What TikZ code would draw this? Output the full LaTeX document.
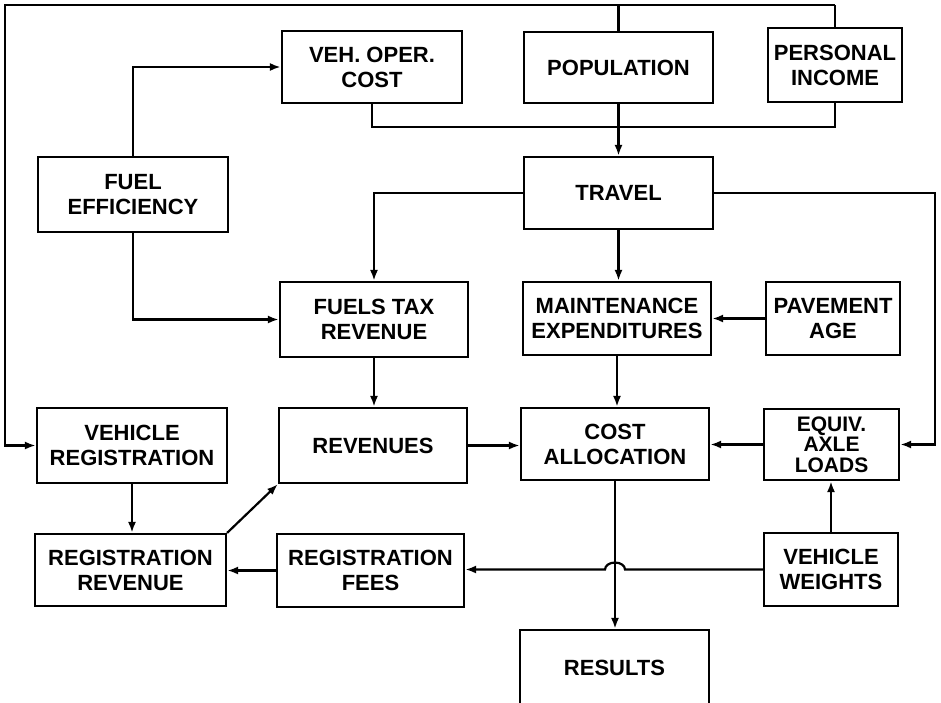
\documentclass[tikz,border=0pt]{standalone}
\usepackage{fontspec}
\setmainfont{Liberation Sans}
\usetikzlibrary{arrows.meta}
\begin{document}
\begin{tikzpicture}[x=0.5pt,y=-0.5pt,
  box/.style={draw,line width=1.1pt,align=center,inner sep=0pt,
    font=\fontsize{11}{12.5}\selectfont\bfseries},
  link/.style={line width=1.1pt},
  flow/.style={link,-{Latex[length=5.5pt,width=4pt]}}]
\useasboundingbox (0,0) rectangle (941,702);

% boxes: position = centre, size in pixels of the layout grid
\node[box,minimum width=90pt,minimum height=36pt]   (veh)    at (372,67)    {VEH. OPER.\\COST};
\node[box,minimum width=94.5pt,minimum height=35.5pt] (pop)  at (618.5,67.5) {POPULATION};
\node[box,minimum width=67pt,minimum height=37pt]   (inc)    at (835,65)    {PERSONAL\\INCOME};
\node[box,minimum width=94.5pt,minimum height=36pt] (travel) at (618.5,193) {TRAVEL};
\node[box,minimum width=95pt,minimum height=37.5pt] (feff)   at (133,194.5) {FUEL\\EFFICIENCY};
\node[box,minimum width=94pt,minimum height=37.5pt] (ftax)   at (374,319.5) {FUELS TAX\\REVENUE};
\node[box,minimum width=94pt,minimum height=36.5pt] (maint)  at (617,318.5) {MAINTENANCE\\EXPENDITURES};
\node[box,minimum width=67pt,minimum height=36.5pt] (pav)    at (833,318.5) {PAVEMENT\\AGE};
\node[box,minimum width=95pt,minimum height=37.5pt] (vreg)   at (132,445.5) {VEHICLE\\REGISTRATION};
\node[box,minimum width=94pt,minimum height=37.5pt] (rev)    at (373,445.5) {REVENUES};
\node[box,minimum width=94pt,minimum height=36pt]   (cost)   at (615,444)   {COST\\ALLOCATION};
\node[box,minimum width=67.5pt,minimum height=35.5pt,
      font=\fontsize{10.5}{10.3}\selectfont\bfseries] (eal)  at (831.5,444.5) {EQUIV.\\AXLE\\LOADS};
\node[box,minimum width=95.5pt,minimum height=36pt] (regrev) at (130.5,570)  {REGISTRATION\\REVENUE};
\node[box,minimum width=93.5pt,minimum height=36.5pt] (fees) at (370.5,570.5) {REGISTRATION\\FEES};
\node[box,minimum width=67pt,minimum height=36.5pt] (vw)     at (831,569.5) {VEHICLE\\WEIGHTS};
\node[box,minimum width=94.5pt,minimum height=38pt] (res)    at (614.5,668) {RESULTS};

% routing helpers
\coordinate (tl) at (5,5);
\coordinate (col) at (0,127);
\coordinate (rx) at (935,0);
\coordinate (hop) at (cost.south |- vw.west);

% feedback loop over the top into vehicle registration
\draw[link] (inc.north) -- (inc.north |- tl);
\draw[link] (pop.north) -- (pop.north |- tl);
\draw[flow] (inc.north |- tl) -- (tl) |- (vreg.west);

% collector under the top row into travel
\draw[link] (veh.south) |- (inc.south |- col) -- (inc.south);
\draw[flow] (pop.south) -- (pop.south |- travel.north);

% fuel efficiency
\draw[flow] (feff.north) |- (veh.west);
\draw[flow] (feff.south) |- (ftax.west);

% travel outputs
\draw[flow] (travel.west) -| (ftax.north);
\draw[flow] (travel.south) -- (travel.south |- maint.north);
\draw[flow] (travel.east) -- (travel.east -| rx) -- (eal.east -| rx) -- (eal.east);

% middle rows
\draw[flow] (ftax.south) -- (ftax.south |- rev.north);
\draw[flow] (pav.west) -- (pav.west -| maint.east);
\draw[flow] (maint.south) -- (maint.south |- cost.north);
\draw[flow] (rev.east) -- (rev.east -| cost.west);
\draw[flow] (eal.west) -- (eal.west -| cost.east);
\draw[flow] (vw.north) -- (vw.north |- eal.south);

% registration chain
\draw[flow] (vreg.south) -- (vreg.south |- regrev.north);
\draw[flow] (regrev.north east) -- (rev.south west);
\draw[flow] (fees.west) -- (fees.west -| regrev.east);

% results, and the weights line hopping over it
\draw[flow] (cost.south) -- (cost.south |- res.north);
\draw[flow] (vw.west) -- ([xshift=5pt]hop)
  arc[start angle=0,end angle=180,x radius=5pt,y radius=3.5pt]
  -- (hop -| fees.east);
\end{tikzpicture}
\end{document}
